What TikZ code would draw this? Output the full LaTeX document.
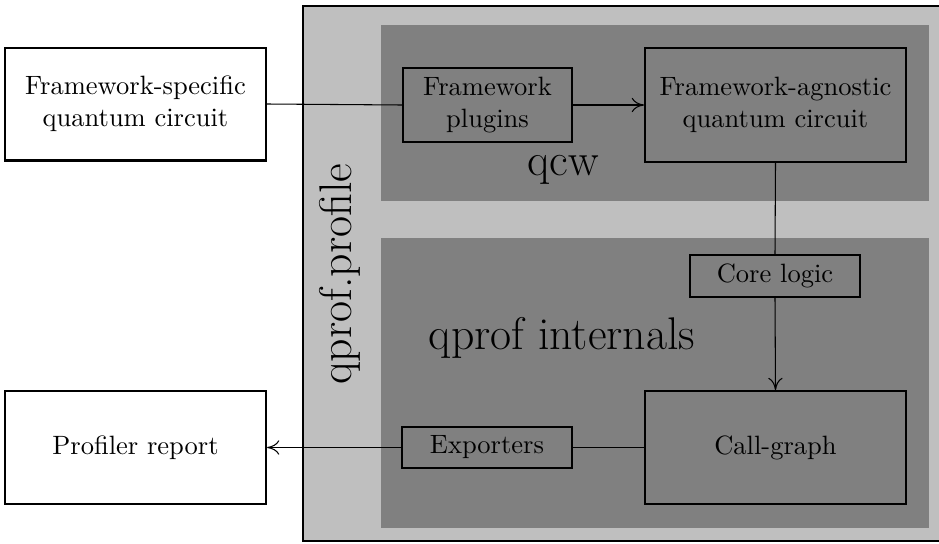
\documentclass[tikz,border=0pt]{standalone}
\usetikzlibrary{arrows.meta}
\begin{document}
\begin{tikzpicture}[x=0.3774pt,y=-0.3774pt,
  box/.style={draw=black,thick,align=center,inner sep=0pt},
  bigbox/.style={box,minimum width=98.5pt,minimum height=42.6pt},
  smallbox/.style={box,minimum width=64.2pt,minimum height=15.7pt},
  conn/.style={draw=black,thin},
  arr/.style={conn,-{Computer Modern Rightarrow[length=4.6pt,width=5.4pt]}}]
\clip (0,0) rectangle (939,543);
\fill[white] (0,0) rectangle (939,543);
% containers
\draw[thick,fill=black!25] (303,6) rectangle (950,541);
\fill[black!50] (381,25) rectangle (929,201);
\fill[black!50] (381,238) rectangle (929,528);
\node[rotate=90,font=\LARGE] (profile) at (340,274) {qprof.profile};
\node[font=\LARGE] (qcw) at (563,170) {qcw};
\node[font=\LARGE] (internals) at (562,338) {qprof internals};
% nodes
\node[bigbox,fill=white] (specific) at (135.5,104) {Framework-specific\\quantum circuit};
\node[bigbox,fill=white] (report) at (135.5,447.5) {Profiler report};
\node[box,minimum width=63.8pt,minimum height=27.9pt] (plugins) at (487.5,105) {Framework\\plugins};
\node[bigbox,minimum height=43pt] (agnostic) at (775.5,105) {Framework-agnostic\\quantum circuit};
\node[smallbox,minimum height=15.9pt] (core) at (775,276) {Core logic};
\node[bigbox] (callgraph) at (775.5,447.5) {Call-graph};
\node[smallbox,minimum height=15.5pt] (exporters) at (487,447.5) {Exporters};
% connectors
\draw[conn] (specific.east) -- (plugins.west);
\draw[arr] (plugins.east) -- (agnostic.west);
\draw[conn] (agnostic.south) -- (core.north);
\draw[arr] (core.south) -- (callgraph.north);
\draw[conn] (callgraph.west) -- (exporters.east);
\draw[arr] (exporters.west) -- (report.east);
\end{tikzpicture}
\end{document}
